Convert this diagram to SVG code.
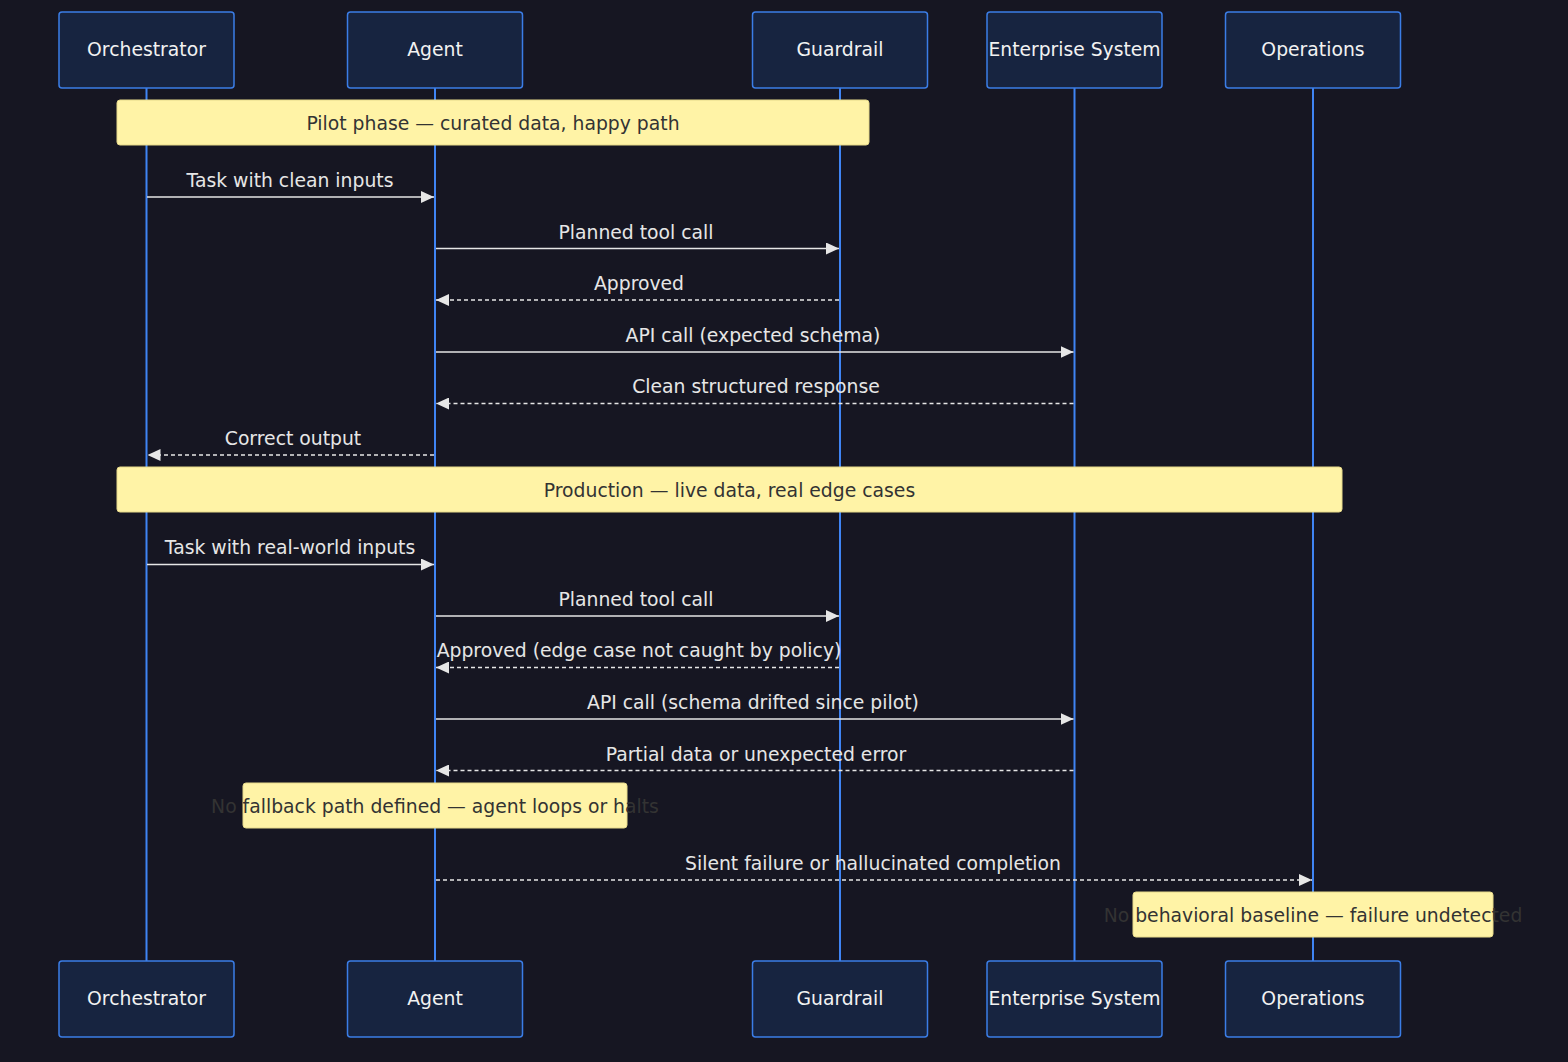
<svg xmlns="http://www.w3.org/2000/svg" width="1568" height="1062" viewBox="0 0 1568 1062">
<style>
.actor rect{fill:#172440;stroke:#3b7de6;stroke-width:1.5}
.actor text{fill:#f2f2f2;font-family:"DejaVu Sans",sans-serif;font-size:18.8px;text-anchor:middle;dominant-baseline:central}
.life{stroke:#3f84f4;stroke-width:2}
.note rect{fill:#fff3a6;stroke:#e6d98a;stroke-width:1}
.note text{fill:#333;font-family:"DejaVu Sans",sans-serif;font-size:18.8px;text-anchor:middle;dominant-baseline:central}
.msg{stroke:#e6e6e6;stroke-width:1.5;fill:none}
.dash{stroke-dasharray:4,3}
.lbl{fill:#e6e6e6;font-family:"DejaVu Sans",sans-serif;font-size:18.8px;text-anchor:middle}
</style>
<defs>
<marker id="ah" viewBox="0 0 13 12" refX="13" refY="6" markerWidth="13" markerHeight="12" markerUnits="userSpaceOnUse" orient="auto">
<path d="M0,0 L13,6 L0,12 z" fill="#e6e6e6"/>
</marker>
</defs>
<rect width="1568" height="1062" fill="#161622"/>
<g id="lifelines">
<line class="life" x1="146.5" y1="88" x2="146.5" y2="961"/>
<line class="life" x1="435" y1="88" x2="435" y2="961"/>
<line class="life" x1="840" y1="88" x2="840" y2="961"/>
<line class="life" x1="1074.5" y1="88" x2="1074.5" y2="961"/>
<line class="life" x1="1313" y1="88" x2="1313" y2="961"/>
</g>
<g id="actor-orchestrator" class="actor"><rect x="59" y="12" width="175" height="76" rx="3"/><text x="146.5" y="49">Orchestrator</text></g>
<g id="actor-agent" class="actor"><rect x="347.5" y="12" width="175" height="76" rx="3"/><text x="435" y="49">Agent</text></g>
<g id="actor-guardrail" class="actor"><rect x="752.5" y="12" width="175" height="76" rx="3"/><text x="840" y="49">Guardrail</text></g>
<g id="actor-enterprise" class="actor"><rect x="987" y="12" width="175" height="76" rx="3"/><text x="1074.5" y="49" textLength="172" lengthAdjust="spacingAndGlyphs">Enterprise System</text></g>
<g id="actor-operations" class="actor"><rect x="1225.5" y="12" width="175" height="76" rx="3"/><text x="1313" y="49">Operations</text></g>
<g id="actor-orchestrator-bottom" class="actor"><rect x="59" y="961" width="175" height="76" rx="3"/><text x="146.5" y="998">Orchestrator</text></g>
<g id="actor-agent-bottom" class="actor"><rect x="347.5" y="961" width="175" height="76" rx="3"/><text x="435" y="998">Agent</text></g>
<g id="actor-guardrail-bottom" class="actor"><rect x="752.5" y="961" width="175" height="76" rx="3"/><text x="840" y="998">Guardrail</text></g>
<g id="actor-enterprise-bottom" class="actor"><rect x="987" y="961" width="175" height="76" rx="3"/><text x="1074.5" y="998" textLength="172" lengthAdjust="spacingAndGlyphs">Enterprise System</text></g>
<g id="actor-operations-bottom" class="actor"><rect x="1225.5" y="961" width="175" height="76" rx="3"/><text x="1313" y="998">Operations</text></g>
<g id="note-pilot" class="note"><rect x="117" y="100" width="752" height="45" rx="3"/><text x="493" y="123">Pilot phase — curated data, happy path</text></g>
<g id="note-production" class="note"><rect x="117" y="467" width="1225" height="45" rx="3"/><text x="729.5" y="490">Production — live data, real edge cases</text></g>
<g id="note-fallback" class="note"><rect x="243" y="783" width="384" height="45" rx="3"/><text x="435" y="806">No fallback path defined — agent loops or halts</text></g>
<g id="note-baseline" class="note"><rect x="1133" y="892" width="360" height="45" rx="3"/><text x="1313" y="915">No behavioral baseline — failure undetected</text></g>
<g id="connectors">
<line class="msg" x1="147" y1="197" x2="434" y2="197" marker-end="url(#ah)"/>
<text class="lbl" x="290" y="187">Task with clean inputs</text>
<line class="msg" x1="436" y1="248.5" x2="839" y2="248.5" marker-end="url(#ah)"/>
<text class="lbl" x="636" y="239">Planned tool call</text>
<line class="msg dash" x1="839" y1="300" x2="436" y2="300" marker-end="url(#ah)"/>
<text class="lbl" x="639" y="290">Approved</text>
<line class="msg" x1="436" y1="352" x2="1073.5" y2="352" marker-end="url(#ah)"/>
<text class="lbl" x="753" y="342">API call (expected schema)</text>
<line class="msg dash" x1="1073.5" y1="403.5" x2="436" y2="403.5" marker-end="url(#ah)"/>
<text class="lbl" x="756" y="393">Clean structured response</text>
<line class="msg dash" x1="434" y1="455" x2="147.5" y2="455" marker-end="url(#ah)"/>
<text class="lbl" x="293" y="445">Correct output</text>
<line class="msg" x1="147" y1="564.5" x2="434" y2="564.5" marker-end="url(#ah)"/>
<text class="lbl" x="290" y="554">Task with real-world inputs</text>
<line class="msg" x1="436" y1="616" x2="839" y2="616" marker-end="url(#ah)"/>
<text class="lbl" x="636" y="606">Planned tool call</text>
<line class="msg dash" x1="839" y1="667.5" x2="436" y2="667.5" marker-end="url(#ah)"/>
<text class="lbl" x="639" y="657">Approved (edge case not caught by policy)</text>
<line class="msg" x1="436" y1="719" x2="1073.5" y2="719" marker-end="url(#ah)"/>
<text class="lbl" x="753" y="709">API call (schema drifted since pilot)</text>
<line class="msg dash" x1="1073.5" y1="770.5" x2="436" y2="770.5" marker-end="url(#ah)"/>
<text class="lbl" x="756" y="761">Partial data or unexpected error</text>
<line class="msg dash" x1="436" y1="880" x2="1312" y2="880" marker-end="url(#ah)"/>
<text class="lbl" x="873" y="870">Silent failure or hallucinated completion</text>
</g>
</svg>
